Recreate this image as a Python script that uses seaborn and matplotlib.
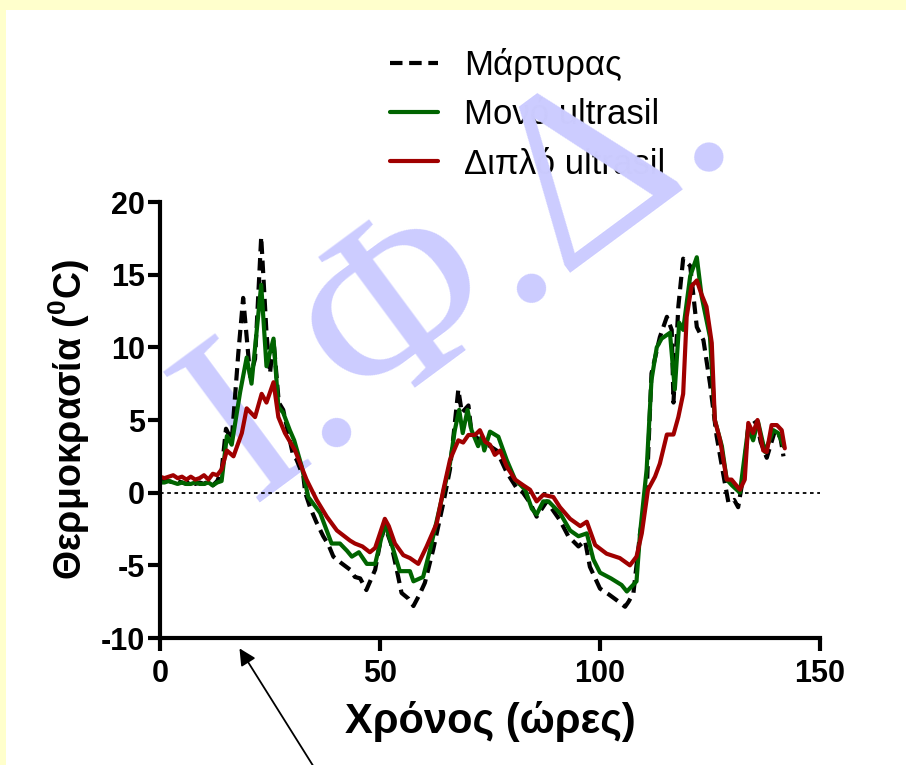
import numpy as np
import pandas as pd
import matplotlib
matplotlib.use("Agg")
import matplotlib.pyplot as plt
from matplotlib.patches import Rectangle
import seaborn as sns

# Series labels
labels = ["Μάρτυρας", "Μονό ultrasil", "Διπλό ultrasil"]

# Control (Μάρτυρας)
t_control = [0, 1, 2, 3, 4, 5, 6, 7, 8, 9, 10, 11, 12, 13, 14, 15, 16.3, 17.8, 18.9, 20.5,
             21.6, 23, 24.2, 25, 25.8, 27, 28, 29, 30.3, 31, 32.6, 33, 34.1, 35.5, 37.1, 38.3,
             39.4, 41, 43.2, 44.3, 45.5, 46.9, 48.9, 50, 51.1, 52.5, 53.8, 54.9, 56.5, 57.6,
             59, 60.2, 62.1, 64.4, 65.9, 66.7, 67.8, 68.6, 70.1, 70.8, 72.7, 74.5, 76.5, 78.8,
             81.1, 82.5, 84.1, 85.6, 87.9, 90.9, 92.8, 95.1, 96.6, 97.7, 100, 102, 103.8, 105.7,
             106.5, 107.6, 109.1, 110.6, 111.7, 113.6, 115.2, 116.3, 116.7, 117.8, 118.9, 120.5,
             122, 123.5, 125, 126.5, 128, 129.2, 130.5, 131.4, 132.5, 133.7, 135.6, 136.5,
             137.9, 139.8, 141, 141.7]
v_control = [0.8, 0.9, 0.8, 0.7, 0.8, 0.7, 0.6, 0.8, 0.6, 0.7, 0.6, 0.8, 0.5, 0.8, 1.5, 4.4, 3.6, 9.6, 13.4, 8.0,
             9.2, 17.6, 11.0, 8.2, 10.5, 6.2, 5.7, 4.3, 2.5, 2.3, 1.1, 0.0, -1.0, -2.0, -3.0, -3.6,
             -4.4, -4.8, -5.3, -5.8, -5.9, -6.7, -5.3, -3.5, -2.3, -3.5, -5.3, -6.9, -7.3, -7.8,
             -7.0, -6.2, -3.9, -0.7, 1.6, 3.9, 7.1, 5.5, 6.0, 4.1, 3.6, 3.3, 2.9, 1.4,
             0.3, 0.0, -0.7, -1.65, -0.6, -1.9, -3.0, -3.7, -3.3, -5.1, -6.6, -7.0, -7.4, -7.85,
             -7.5, -6.9, -2.8, 0.0, 8.2, 10.7, 12.1, 11.2, 6.2, 12.8, 16.1, 15.6,
             11.4, 10.5, 7.5, 3.9, 1.3, -0.7, -0.5, -1.0, 1.0, 4.5, 4.9, 3.5,
             2.4, 4.3, 3.8, 2.5]

# Single ultrasil (Μονό ultrasil)
t_single = [0, 1, 2, 3, 4, 5, 6, 7, 8, 9, 10, 11, 12, 13, 14, 15.2, 16.3, 18.2, 19.7, 20.8,
            23, 24.2, 25.8, 26.9, 28, 29.5, 30.5, 32.2, 33.7, 36.4, 39, 40.9, 42.5, 43.6, 45.2,
            47, 48.9, 51.1, 53, 54.5, 56.8, 57.6, 59.8, 61.4, 63.6, 65.9, 67, 68, 68.8, 69.9,
            70.8, 72.3, 73.1, 73.7, 75, 76.9, 78.8, 80.7, 83, 84.5, 85.6, 87.1, 88.3, 90.9,
            93.2, 95.1, 97, 98.5, 100, 102.5, 104.9, 106.1, 108.3, 109.1, 110.6, 111.7, 112.9,
            114, 115.9, 117, 118, 118.9, 120.5, 122, 123.1, 125, 126.1, 127.7, 128.8, 130,
            131.8, 133.7, 134.8, 135.9, 137.5, 139.4, 140.5, 141.7]
v_single = [0.7, 0.7, 0.8, 0.7, 0.6, 0.7, 0.6, 0.6, 0.7, 0.6, 0.6, 0.7, 0.5, 0.7, 0.8, 3.9, 3.3, 6.9, 9.3, 7.5,
            14.3, 8.7, 10.6, 5.9, 5.5, 4.3, 3.6, 1.8, -0.3, -1.4, -3.5, -3.5, -4.0, -4.4, -4.1,
            -4.9, -4.9, -2.1, -3.9, -5.4, -5.4, -6.1, -5.8, -3.9, -1.0, 2.0, 4.3, 5.7, 4.1, 5.7,
            4.3, 3.2, 3.85, 2.9, 4.2, 3.85, 2.25, 0.9, 0.2, -1.1, -1.5, -0.6, -0.6, -1.4,
            -2.6, -3.0, -2.8, -4.6, -5.5, -5.9, -6.35, -6.8, -6.1, -2.8, 1.6, 7.75, 10.0,
            10.6, 11.0, 7.1, 11.7, 11.2, 14.9, 16.2, 13.5, 10.7, 5.0, 3.2, 0.9, 0.5,
            0.0, 4.5, 3.6, 4.9, 2.8, 4.3, 4.1, 3.2]

# Double ultrasil (Διπλό ultrasil)
t_double = [0, 1, 2, 3, 4, 5, 6, 7, 8, 9, 10, 11, 12, 13, 14, 15.2, 16.7, 18.6, 19.7, 21.6,
            23.1, 24.2, 25.8, 26.9, 28.4, 30.7, 33.3, 35.6, 37.9, 40.2, 43.2, 44.3, 46, 47.7,
            48.9, 50, 51.1, 52, 53.4, 55.3, 56.8, 58.7, 60.6, 62.9, 64.4, 65.9, 67.8, 68.9,
            70.1, 71.6, 72.7, 73.9, 75, 76.1, 77.3, 78.8, 80.7, 82.6, 84.1, 85.6, 87.1, 89.4,
            90.9, 93.2, 95.5, 97, 98.9, 101.5, 104.5, 106.8, 108.3, 109.5, 110.9, 112.5, 113.6,
            115.2, 116.7, 117.8, 118.9, 119.7, 120.8, 122, 123, 124.2, 125.4, 126.1, 127.3,
            128.8, 129.9, 131.8, 132.9, 133.7, 134.8, 135.8, 137.1, 137.9, 139, 140.2, 141.3, 142]
v_double = [1.1, 1.0, 1.1, 1.2, 1.0, 1.1, 0.9, 1.1, 0.9, 1.0, 1.2, 0.9, 1.3, 1.2, 1.6, 2.9, 2.5, 4.1, 5.8, 5.2,
            6.8, 6.2, 7.6, 5.2, 4.1, 2.9, 0.9, -0.5, -1.65, -2.6, -3.3, -3.5, -3.7, -4.1,
            -3.8, -2.8, -1.8, -2.3, -3.5, -4.3, -4.5, -4.9, -3.7, -2.1, 0.2, 2.25, 3.6, 3.45,
            3.97, 3.97, 4.3, 3.5, 3.3, 2.6, 2.9, 1.8, 0.9, 0.5, 0.2, -0.6, -0.15, -0.3,
            -1.0, -1.8, -2.3, -2.0, -3.6, -4.2, -4.5, -5.0, -4.4, -2.8, 0.2, 1.1, 2.0,
            4.0, 4.0, 5.2, 6.8, 12.1, 14.2, 14.6, 13.7, 12.8, 10.3, 5.0, 3.6,
            0.9, 0.9, 0.2, 0.9, 4.8, 4.1, 5.0, 2.9, 2.8, 4.65, 4.65, 4.3, 3.05]

x_ticks = [0, 50, 100, 150]
y_ticks = [-10, -5, 0, 5, 10, 15, 20]

sns.set_style("ticks")
plt.rcParams["font.family"] = ["Liberation Sans", "DejaVu Sans"]
plt.rcParams["mathtext.fontset"] = "custom"
plt.rcParams["mathtext.rm"] = "Liberation Sans"
plt.rcParams["mathtext.bf"] = "Liberation Sans:bold"
plt.rcParams["axes.unicode_minus"] = False
for key in ["text.color", "axes.labelcolor", "xtick.color", "ytick.color", "axes.edgecolor"]:
    plt.rcParams[key] = "black"

fig = plt.figure(figsize=(9.06, 7.65), dpi=100, facecolor="#FFFFCC")
# white panel inside the yellow frame
fig.patches.append(Rectangle((6 / 906, 0), 1, 1 - 10 / 765, transform=fig.transFigure,
                             facecolor="white", edgecolor="none", zorder=-10))

ax = fig.add_axes([160 / 906, 127 / 765, 660 / 906, 436 / 765])
ax.set_zorder(5)
ax.patch.set_visible(False)

sns.lineplot(x=t_control, y=v_control, ax=ax, color="black", lw=3,
             linestyle=(0, (3, 1.6)), legend=False)
sns.lineplot(x=t_single, y=v_single, ax=ax, color="#006400", lw=3, legend=False)
sns.lineplot(x=t_double, y=v_double, ax=ax, color="#A00000", lw=3, legend=False)
handles = ax.get_lines()[:3]

ax.axhline(0, color="black", lw=1.3, linestyle=(0, (2, 2)), zorder=1)

ax.set_xlim(0, 150)
ax.set_ylim(-10, 20)
ax.set_xticks(x_ticks)
ax.set_yticks(y_ticks)
sns.despine(ax=ax)
for side in ["left", "bottom"]:
    ax.spines[side].set_linewidth(3)
ax.tick_params(axis="both", width=3, length=9, labelsize=22)
ax.tick_params(axis="x", pad=6)
ax.tick_params(axis="y", pad=2)
for lab in ax.get_xticklabels() + ax.get_yticklabels():
    lab.set_fontweight("bold")

ax.set_xlabel("Χρόνος (ώρες)", fontsize=30, fontweight="bold", labelpad=9)
ax.set_ylabel(r"Θερμοκρασία ($\mathbf{^{0}}$C)", fontsize=27, fontweight="bold", labelpad=6)

leg = fig.legend(handles, labels, loc="upper left", bbox_to_anchor=(390 / 906, 1 - 48 / 765),
                 frameon=False, fontsize=25, handlelength=1.38, handletextpad=0.75,
                 labelspacing=0.47, borderpad=0, borderaxespad=0)
leg.set_zorder(3)

# watermark
fig.text(0.546, 0.579, "Ι.Φ.Δ.", fontsize=178, color="#CCCCFF", family="Liberation Serif",
         rotation=36.5, rotation_mode="anchor", ha="center", va="baseline", zorder=4)

# arrow from the bottom edge
ax.annotate("", xy=(238 / 906, 1 - 646 / 765), xycoords="figure fraction",
            xytext=(322 / 906, 1 - 780 / 765), textcoords="figure fraction",
            arrowprops=dict(arrowstyle="-|>", color="black", lw=1.3, mutation_scale=25),
            annotation_clip=False)

fig.savefig("out.png", dpi=100, facecolor=fig.get_facecolor())
